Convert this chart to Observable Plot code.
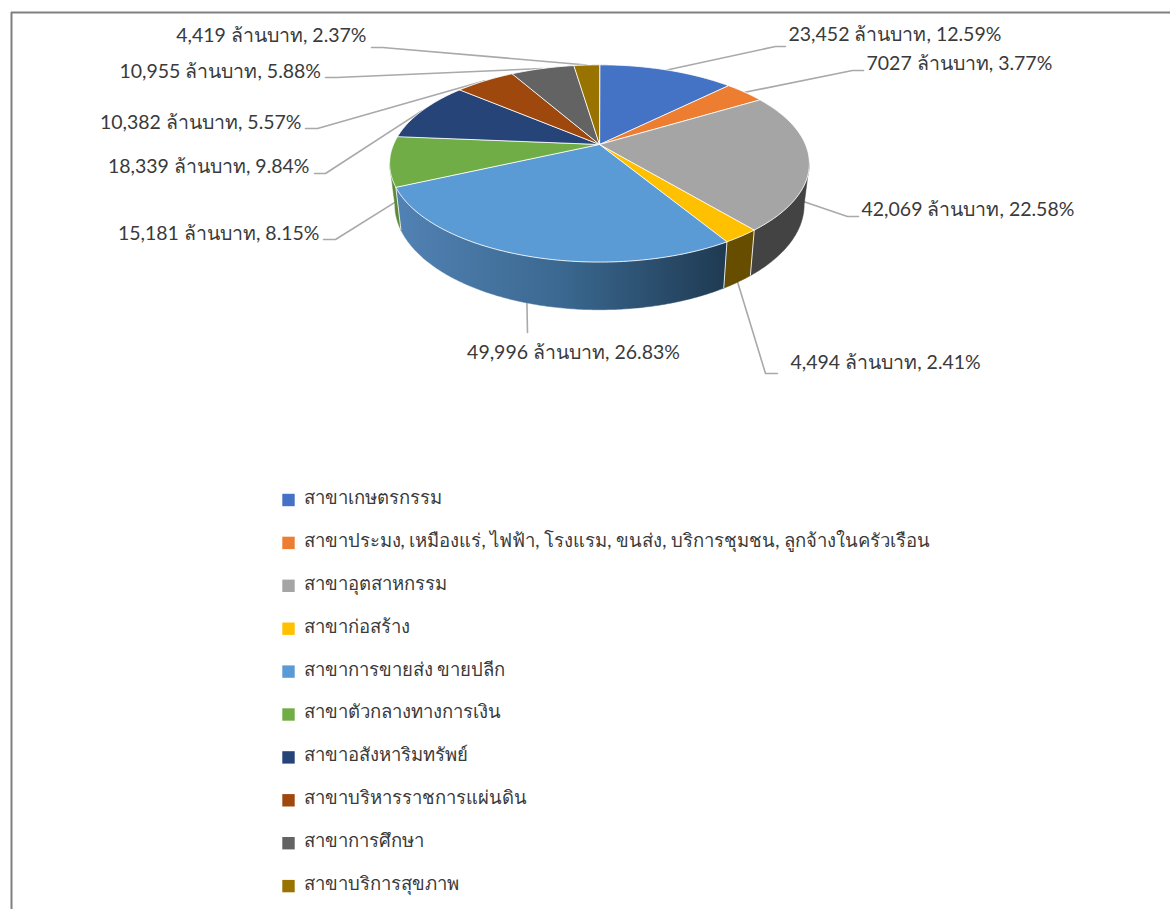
<!DOCTYPE html>
<html>
<head>
<meta charset="utf-8">
<script src="https://cdn.jsdelivr.net/npm/d3@7"></script>
<script src="https://cdn.jsdelivr.net/npm/@observablehq/plot@0.6"></script>
<style>
html,body{margin:0;padding:0;background:#fff;overflow:hidden}
</style>
</head>
<body>
<div id="chart"></div>
<script>
// ---- data ----
const sectors = ["สาขาเกษตรกรรม","สาขาประมง, เหมืองแร่, ไฟฟ้า, โรงแรม, ขนส่ง, บริการชุมชน, ลูกจ้างในครัวเรือน","สาขาอุตสาหกรรม","สาขาก่อสร้าง","สาขาการขายส่ง ขายปลีก","สาขาตัวกลางทางการเงิน","สาขาอสังหาริมทรัพย์","สาขาบริหารราชการแผ่นดิน","สาขาการศึกษา","สาขาบริการสุขภาพ"];
const values = [23452,7027,42069,4494,49996,15181,18339,10382,10955,4419];
const valueLabels = ["23,452","7027","42,069","4,494","49,996","15,181","18,339","10,382","10,955","4,419"];
const percents = ["12.59%","3.77%","22.58%","2.41%","26.83%","8.15%","9.84%","5.57%","5.88%","2.37%"];
const unit = "ล้านบาท";

// ---- styles ----
const topColors = ["#4472C4","#ED7D31","#A5A5A5","#FFC000","#5B9BD5","#70AD47","#264478","#9E480E","#636363","#997300"];
const wallColors = ["#294576","#8e4b1d","#434343","#674d00","url(#blueWall)","#5a8a39","#172947","#5f2b08","#3b3b3b","#5c4500"];

// ---- layout (chart units) ----
const W = 1170, H = 909;
const pie = {cx:599, cy:144, rx:206, ry:95, k:0.192, botCy:184, botX:0.975, botY:1.065};
const elbowX = [775,852,847,765,527,335,325,317,336,382];
const elbowY = [46,70,216,373,332,239,173,128,77,47];
const endX   = [785,863,858,777,527,323,314,305,325,371];
const labelX = [788,866,861,790,573,319,309,301,320.5,366];
const labelY = [34,63,209,362,352,233,166,122,71,35];
const labelAnchor = ["start","start","start","start","middle","end","end","end","end","end"];
const legendX = 288, legendTextX = 303, legendTop = 499.5, legendStep = 42.9;
const frameX = 11, frameY = 12;

// ---- geometry from the values ----
const total = d3.sum(values);
const cum = d3.cumsum(values);
const startOf = i => (i ? cum[i-1] : 0) / total * 2 * Math.PI;
const endOf = i => cum[i] / total * 2 * Math.PI;
const project = (a, bottom) => {
  const u = Math.sin(a), v = -Math.cos(a), w = 1 - pie.k * v;
  const px = pie.rx * u / w, py = pie.ry * v / w;
  return bottom
    ? {x: pie.cx + pie.botX * px, y: pie.botCy + pie.botY * py, v}
    : {x: pie.cx + px, y: pie.cy + py, v};
};
const arc = (a0, a1, bottom) => {
  const n = Math.max(2, Math.ceil((a1 - a0) / 0.01));
  return d3.range(n + 1).map(j => project(a0 + (a1 - a0) * j / n, bottom));
};
const wallFrom = 101 * Math.PI / 180, wallTo = 259 * Math.PI / 180;

const faces = sectors.flatMap((name, i) =>
  [{x: pie.cx, y: pie.cy}, ...arc(startOf(i), endOf(i), false)].map(p => ({...p, name})));

const walls = sectors.flatMap((name, i) => {
  const a0 = Math.max(startOf(i), wallFrom), a1 = Math.min(endOf(i), wallTo);
  if (a1 <= a0) return [];
  return [...arc(a0, a1, false), ...arc(a0, a1, true).reverse()].map(p => ({...p, name, wall: wallColors[i]}));
});

const seams = sectors.flatMap((name, i) => {
  const a = endOf(i);
  if (a < wallFrom || a > wallTo) return [];
  const t = project(a, false), b = project(a, true);
  return [{x1: t.x, y1: t.y, x2: b.x, y2: b.y}];
});

const leaders = sectors.flatMap((name, i) => {
  const mid = (startOf(i) + endOf(i)) / 2;
  const p = project(mid, -Math.cos(mid) > 0.1);
  return [p, {x: elbowX[i], y: elbowY[i]}, {x: endX[i], y: elbowY[i]}].map(q => ({x: q.x, y: q.y, name}));
});

const labels = sectors.map((name, i) => ({
  x: labelX[i], y: labelY[i], anchor: labelAnchor[i],
  text: `${valueLabels[i]} ${unit}, ${percents[i]}`
}));
const legend = sectors.map((name, i) => ({name, y: legendTop + i * legendStep}));

const font = "Lato, 'Noto Sans', sans-serif";
const textFill = "#3a3a3a";
const labelMark = anchor => Plot.text(labels.filter(d => d.anchor === anchor), {
  x: "x", y: "y", text: "text", textAnchor: anchor, fontSize: 19.5, fill: textFill, lineAnchor: "middle"
});

const chart = Plot.plot({
  width: W, height: H,
  margin: 0,
  style: {fontFamily: font, background: "#fff"},
  x: {domain: [0, W], range: [0, W], axis: null},
  y: {domain: [0, H], range: [0, H], axis: null},
  color: {type: "ordinal", domain: sectors, range: topColors},
  marks: [
    () => {
      const svg = d3.create("svg:defs");
      const g = svg.append("linearGradient").attr("id", "blueWall");
      g.append("stop").attr("offset", "0%").attr("stop-color", "#5282b4");
      g.append("stop").attr("offset", "50%").attr("stop-color", "#3a6890");
      g.append("stop").attr("offset", "100%").attr("stop-color", "#1f3a52");
      return svg.node();
    },
    Plot.ruleX([frameX], {y1: frameY, y2: H, stroke: "#808080", strokeWidth: 2}),
    Plot.ruleY([frameY], {x1: frameX, x2: W, stroke: "#808080", strokeWidth: 2}),
    Plot.line(leaders, {x: "x", y: "y", z: "name", stroke: "#A9A9A9", strokeWidth: 1.6}),
    Plot.line(walls, {x: "x", y: "y", z: "name", curve: "linear-closed",
      fill: {value: d => d.wall, scale: null}, stroke: {value: d => d.wall, scale: null}, strokeWidth: 0.5}),
    Plot.link(seams, {x1: "x1", y1: "y1", x2: "x2", y2: "y2", stroke: "#e8e8e8", strokeWidth: 1}),
    Plot.line(faces, {x: "x", y: "y", z: "name", curve: "linear-closed", fill: "name", stroke: "#ffffff", strokeWidth: 1, strokeOpacity: 0.85}),
    labelMark("start"), labelMark("middle"), labelMark("end"),
    Plot.dot(legend, {x: () => legendX, y: "y", symbol: "square", r: 7, fill: "name"}),
    Plot.text(legend, {x: () => legendTextX, y: d => d.y - 2, text: "name", textAnchor: "start", fontSize: 18.5, fill: textFill, lineAnchor: "middle"})
  ]
});
document.getElementById("chart").append(chart);
</script>
</body>
</html>
